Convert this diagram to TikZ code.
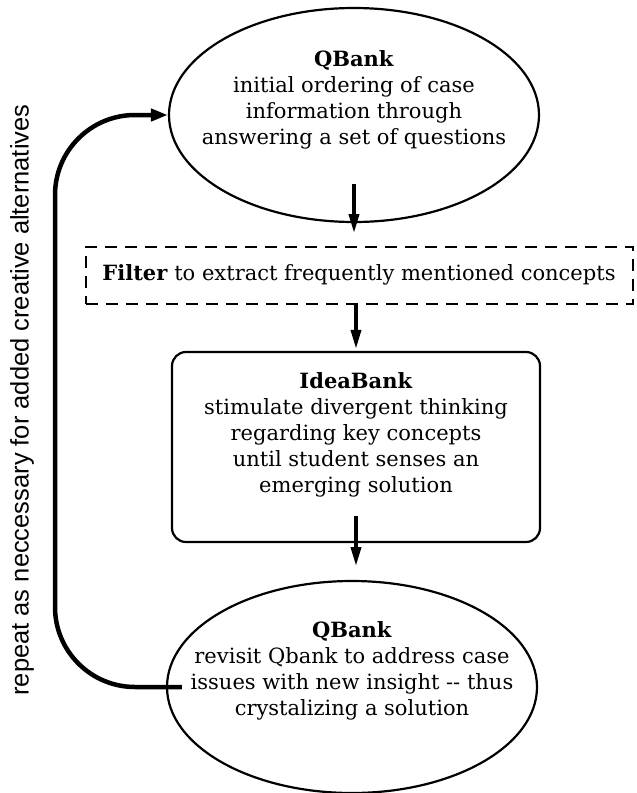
\documentclass[tikz,border=0pt]{standalone}
\usepackage{fontspec}
\setmainfont{DejaVu Serif}
\setsansfont{Liberation Sans}
\usetikzlibrary{arrows.meta,shapes.geometric}

\begin{document}
\begin{tikzpicture}[x=1pt, y=-1pt,
        bank/.style={draw, ellipse, line width=2.2pt, minimum width=370pt, minimum height=214pt},
        words/.style={align=center, font=\fontsize{21}{26}\selectfont},
        down/.style={-{Triangle[length=19pt,width=10pt]}, line width=3.6pt}]
    \useasboundingbox (0,0) rectangle (637,793);

    % Question bank, first pass
    \node[bank] (qtop) at (354,115) {};
    \node[words] (qtoptext) at (354,100) {\textbf{QBank}\\initial ordering of case\\information through\\answering a set of questions};

    % Filter step
    \node[words, draw, dash pattern=on 12pt off 8pt, line width=2pt,
          minimum width=547pt, minimum height=57pt] (filter) at (359,275)
          {\textbf{Filter} to extract frequently mentioned concepts};

    % Idea bank
    \node[draw, rounded corners=14pt, line width=2.2pt, minimum width=368pt, minimum height=190pt] (idea) at (356,447) {};
    \node[words] (ideatext) at (356,435) {\textbf{IdeaBank}\\stimulate divergent thinking\\regarding key concepts\\until student senses an\\emerging solution};

    % Question bank, second pass
    \node[bank, minimum height=212pt] (qbot) at (352,687) {};
    \node[words] (qbottext) at (352,671) {\textbf{QBank}\\revisit Qbank to address case\\issues with new insight -{}- thus\\crystalizing a solution};

    % Flow arrows
    \draw[down] ([yshift=39pt]qtop.south) -- ([yshift=-10pt]qtop.south);
    \draw[down] (idea.north |- filter.south) -- ([yshift=2pt]idea.north);
    \draw[down] ([yshift=27pt]idea.south) -- ([yshift=-23pt]idea.south);

    % Loop back
    \coordinate (bend) at (55,400);
    \draw[-{Triangle[length=17pt,width=12pt]}, line width=4.5pt, rounded corners=80pt]
        ([xshift=16pt]qbot.west) -| (bend) |- (qtop.west);
    \node[rotate=90, font=\sffamily\fontsize{25.5}{30}\selectfont] (repeat) at (22,400)
        {repeat as neccessary for added creative alternatives};
\end{tikzpicture}
\end{document}
